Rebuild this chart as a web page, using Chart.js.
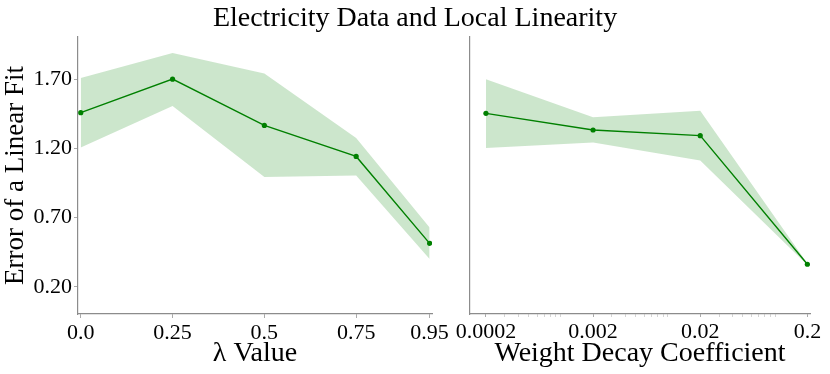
<!DOCTYPE html>
<html>
<head>
<meta charset="utf-8">
<script src="https://cdn.jsdelivr.net/npm/chart.js@4.4.1/dist/chart.umd.min.js"></script>
<style>
  html, body { margin: 0; padding: 0; background: #fff; }
  #wrap { position: relative; width: 830px; height: 374px; overflow: hidden; }
  #title { position: absolute; left: 0; top: 0; width: 830px; text-align: center;
           font-family: "Liberation Serif", "DejaVu Serif", serif; font-size: 28px; line-height: 34px; color: #000; }
  #c1 { position: absolute; left: 0; top: 0; }
  #c2 { position: absolute; left: 440px; top: 0; }
</style>
</head>
<body>
<div id="wrap">
  <canvas id="c1" width="460" height="374"></canvas>
  <canvas id="c2" width="390" height="374"></canvas>
  <div id="title">Electricity Data and Local Linearity</div>
</div>
<script>
// ---- data ----
const lambdaValues = [0, 0.25, 0.5, 0.75, 0.95];
const lambdaTickLabels = ["0.0", "0.25", "0.5", "0.75", "0.95"];
const lambdaMean  = [1.458, 1.700, 1.366, 1.142, 0.515];
const lambdaUpper = [1.708, 1.888, 1.740, 1.275, 0.630];
const lambdaLower = [1.207, 1.506, 0.994, 1.005, 0.402];

const wdValues = [0.0002, 0.002, 0.02, 0.2];
const wdTickLabels = ["0.0002", "0.002", "0.02", "0.2"];
const wdMean  = [1.453, 1.333, 1.292, 0.364];
const wdUpper = [1.700, 1.424, 1.472, 0.370];
const wdLower = [1.203, 1.243, 1.113, 0.358];

const yTicks = [0.20, 0.70, 1.20, 1.70];
const yMin = 0.005, yMax = 2.004;

// ---- styles ----
const GREEN = '#008000';
const BAND = 'rgba(0,128,0,0.2)';
const AXIS = '#8c8c8c';
const FONT = '"Liberation Serif", "DejaVu Serif", serif';

function pts(xs, ys) { return xs.map((x, i) => ({ x: x, y: ys[i] })); }

function datasets(xs, mean, up, lo) {
  return [
    { data: pts(xs, mean), borderColor: GREEN, backgroundColor: GREEN, borderWidth: 1.4,
      pointRadius: 2.6, pointBackgroundColor: GREEN, pointBorderWidth: 0, fill: false, order: 0, tension: 0 },
    { data: pts(xs, up), borderWidth: 0, borderColor: 'rgba(0,0,0,0)', pointRadius: 0,
      backgroundColor: BAND, fill: '+1', order: 1, tension: 0 },
    { data: pts(xs, lo), borderWidth: 0, borderColor: 'rgba(0,0,0,0)', pointRadius: 0,
      backgroundColor: BAND, fill: false, order: 1, tension: 0 }
  ];
}

const common = {
  responsive: false,
  animation: false,
  events: [],
  plugins: { legend: { display: false }, tooltip: { enabled: false }, title: { display: false } }
};

// left chart
new Chart(document.getElementById('c1'), {
  type: 'line',
  data: { datasets: datasets(lambdaValues, lambdaMean, lambdaUpper, lambdaLower) },
  options: Object.assign({}, common, {
    layout: { padding: { top: 37, right: 28, left: 0, bottom: 0 } },
    scales: {
      x: {
        type: 'linear', min: -0.0075, max: 0.9565,
        afterBuildTicks: s => { s.ticks = lambdaValues.map(v => ({ value: v })); },
        afterFit: s => { s.height = 60; },
        ticks: { autoSkip: false, maxRotation: 0, minRotation: 0, padding: 2, color: '#000',
                 font: { family: FONT, size: 22 },
                 callback: (v) => { const i = lambdaValues.indexOf(v); return i >= 0 ? lambdaTickLabels[i] : ''; } },
        grid: { display: true, drawOnChartArea: false, drawTicks: true, tickLength: 4, tickColor: '#aaa' },
        border: { display: true, color: AXIS, width: 1.2 },
        title: { display: true, text: 'λ Value', color: '#000', font: { family: FONT, size: 28 }, padding: { top: 0, bottom: 4 } }
      },
      y: {
        type: 'linear', min: yMin, max: yMax,
        afterBuildTicks: s => { s.ticks = yTicks.map(v => ({ value: v })); },
        afterFit: s => { s.width = 78; },
        ticks: { autoSkip: false, padding: 2, color: '#000', font: { family: FONT, size: 22 },
                 callback: v => Number(v).toFixed(2) },
        grid: { display: true, drawOnChartArea: false, drawTicks: true, tickLength: 4, tickColor: '#aaa' },
        border: { display: true, color: AXIS, width: 1.2 },
        title: { display: true, text: 'Error of a Linear Fit', color: '#000', font: { family: FONT, size: 27 }, padding: { top: 0, bottom: 2 } }
      }
    }
  })
});

// right chart
const wdMinor = [];
for (let e = -4; e <= -1; e++) {
  for (let k = 1; k <= 9; k++) {
    const v = k * Math.pow(10, e);
    if (v >= 1.42e-4 && v <= 0.2116) wdMinor.push(v);
  }
}
function isMajor(v) { return wdValues.some(m => Math.abs(Math.log10(m) - Math.log10(v)) < 1e-6); }

new Chart(document.getElementById('c2'), {
  type: 'line',
  data: { datasets: datasets(wdValues, wdMean, wdUpper, wdLower) },
  options: Object.assign({}, common, {
    layout: { padding: { top: 37, right: 20, left: 0, bottom: 0 } },
    scales: {
      x: {
        type: 'logarithmic', min: 1.42e-4, max: 0.2116,
        afterBuildTicks: s => { s.ticks = wdMinor.map(v => ({ value: v, major: isMajor(v) })); },
        afterFit: s => { s.height = 60; },
        ticks: { autoSkip: false, maxRotation: 0, minRotation: 0, padding: 2, color: '#000',
                 font: { family: FONT, size: 22 },
                 callback: (v) => { for (let i = 0; i < wdValues.length; i++) { if (isMajor(v) && Math.abs(Math.log10(wdValues[i]) - Math.log10(v)) < 1e-6) return wdTickLabels[i]; } return ''; } },
        grid: { display: true, drawOnChartArea: false, drawTicks: true, tickLength: 3,
                tickColor: c => (c.tick && isMajor(c.tick.value)) ? '#aaa' : '#d4d4d4' },
        border: { display: true, color: AXIS, width: 1.2 },
        title: { display: true, text: 'Weight Decay Coefficient', color: '#000', font: { family: FONT, size: 28 }, padding: { top: 0, bottom: 4 } }
      },
      y: {
        type: 'linear', min: yMin, max: yMax,
        afterBuildTicks: s => { s.ticks = yTicks.map(v => ({ value: v })); },
        afterFit: s => { s.width = 30; },
        ticks: { display: false },
        grid: { display: false },
        border: { display: true, color: AXIS, width: 1.2 }
      }
    }
  })
});
</script>
</body>
</html>
